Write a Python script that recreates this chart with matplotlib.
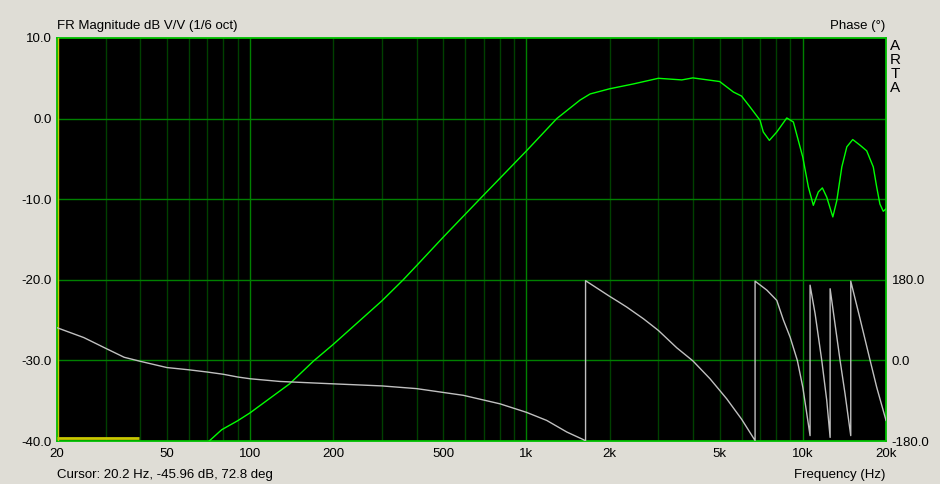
import numpy as np
import matplotlib
matplotlib.use('Agg')
import matplotlib.pyplot as plt
from matplotlib.ticker import FixedLocator, NullLocator

plt.rcParams['font.family'] = ['Liberation Sans', 'DejaVu Sans']

# magnitude response (dB V/V)
mag_freq = [71.1, 78.9, 90, 100, 139, 169.3, 200, 300, 358, 400, 500, 688,
            1000, 1287, 1563, 1700, 2000, 2437, 3000, 3648, 4000, 5000, 5607,
            6000, 6442, 7000, 7194, 7568, 8050, 8750, 9243, 10000, 10475,
            10916, 11380, 11770, 12210, 12840, 13270, 13840, 14430, 15160,
            16110, 17030, 17990, 18510, 19010, 19550, 20000]
mag_db = [-40, -38.6, -37.5, -36.5, -32.9, -30.1, -28.0, -22.6, -20.0, -18.25,
          -14.7, -9.75, -4.0, 0.0, 2.3, 3.06, 3.7, 4.3, 5.0, 4.8, 5.05, 4.6,
          3.3, 2.8, 1.44, -0.2, -1.66, -2.7, -1.66, 0.08, -0.42, -4.8, -8.5,
          -10.76, -9.1, -8.6, -9.75, -12.2, -10.2, -6.0, -3.5, -2.6, -3.3,
          -4.0, -6.0, -8.5, -10.6, -11.5, -11.2]

# wrapped phase (deg), repeated frequencies are the wrap jumps
ph_freq = [20, 25, 30, 35, 40, 50, 60, 70, 80, 90, 100, 128, 194, 300, 400,
           591, 802, 1000, 1183, 1400, 1607, 1636, 1636, 2000, 2150, 2307,
           2650, 3000, 3500, 4000, 4615, 5307, 6000, 6718, 6718, 7408, 8050,
           8508, 8995, 9553, 10000, 10623, 10623, 11080, 11710, 12210, 12555,
           12555, 13640, 14220, 14910, 14910, 16110, 17520, 18510, 20000]
ph_deg = [73, 51, 27, 7, -2, -16, -21, -26, -31, -37, -41, -47, -52, -57, -63,
          -78, -97, -116, -134, -160, -177, -180, 178, 143, 131, 119, 93, 67,
          28, -1, -41, -86, -131, -179, 177, 157, 134, 90, 52, 0, -60, -168,
          168, 104, 0, -90, -172, 160, 0, -75, -168, 177, 93, 0, -60, -134]

cursor_freq = 20.2
gen_freq = [20, 39.5]
gen_db = [-39.6, -39.6]

x_ticks = [20, 50, 100, 200, 500, 1000, 2000, 5000, 10000, 20000]
x_labels = ['20', '50', '100', '200', '500', '1k', '2k', '5k', '10k', '20k']
y_ticks = [10, 0, -10, -20, -30, -40]
ph_ticks = [-180, 0, 180]

bg = '#dfddd6'
major = '#008000'
minor = '#004000'
frame = '#00c000'

W, H = 940, 484
fig = plt.figure(figsize=(9.4, 4.84), dpi=100, facecolor=bg)
ax = fig.add_axes([57 / W, 1 - 441 / H, 829 / W, 403 / H])
ax.set_facecolor('black')
ax.set_xscale('log')
ax.set_xlim(20, 20000)
ax.set_ylim(-40, 10)

# grid
for dec in [10, 100, 1000, 10000]:
    for m in range(2, 10):
        f = dec * m
        if 20 < f < 20000:
            ax.axvline(f, color=minor, lw=1, zorder=1)
for f in [100, 1000, 10000]:
    ax.axvline(f, color=major, lw=1, zorder=1)
for y in y_ticks[1:-1]:
    ax.axhline(y, color=major, lw=1, zorder=1)
for s in ax.spines.values():
    s.set_color(frame)
    s.set_linewidth(1.3)

ax.plot(mag_freq, mag_db, color='#00ff00', lw=1, zorder=3)
ax.plot(gen_freq, gen_db, color='#c8c800', lw=2, zorder=3, solid_capstyle='butt')
ax.axvline(cursor_freq, color='#c8c800', lw=1, zorder=4)

ax.xaxis.set_major_locator(FixedLocator(x_ticks))
ax.xaxis.set_minor_locator(NullLocator())
ax.set_xticklabels(x_labels)
ax.set_yticks(y_ticks)
ax.set_yticklabels(['%.1f' % v for v in y_ticks])
ax.tick_params(axis='both', length=0, labelsize=9.5, colors='black')
ax.tick_params(axis='x', pad=5)
ax.tick_params(axis='y', pad=4)

# phase on the right, -180..180 over the lowest 20 dB
ax2 = ax.twinx()
ax2.set_ylim(-180, 720)
ax2.plot(ph_freq, ph_deg, color='#c0c0c0', lw=1, zorder=2)
ax2.set_yticks(ph_ticks)
ax2.set_yticklabels(['%.1f' % v for v in ph_ticks])
ax2.tick_params(axis='y', length=0, labelsize=9.5, pad=4)
for s in ax2.spines.values():
    s.set_visible(False)
ax2.xaxis.set_minor_locator(NullLocator())

def ftext(x, y, s, size=9.5, **kw):
    fig.text(x / W, 1 - y / H, s, fontsize=size, va='center', **kw)

ftext(57, 26, 'FR Magnitude dB V/V (1/6 oct)', ha='left')
ftext(885, 26, 'Phase (°)', ha='right')
for i, ch in enumerate('ARTA'):
    ftext(895, 46 + 14 * i, ch, size=11, ha='center')
ftext(57, 475, 'Cursor: 20.2 Hz, -45.96 dB, 72.8 deg', ha='left')
ftext(885, 475, 'Frequency (Hz)', ha='right')

fig.savefig('out.png', dpi=100, facecolor=bg)
